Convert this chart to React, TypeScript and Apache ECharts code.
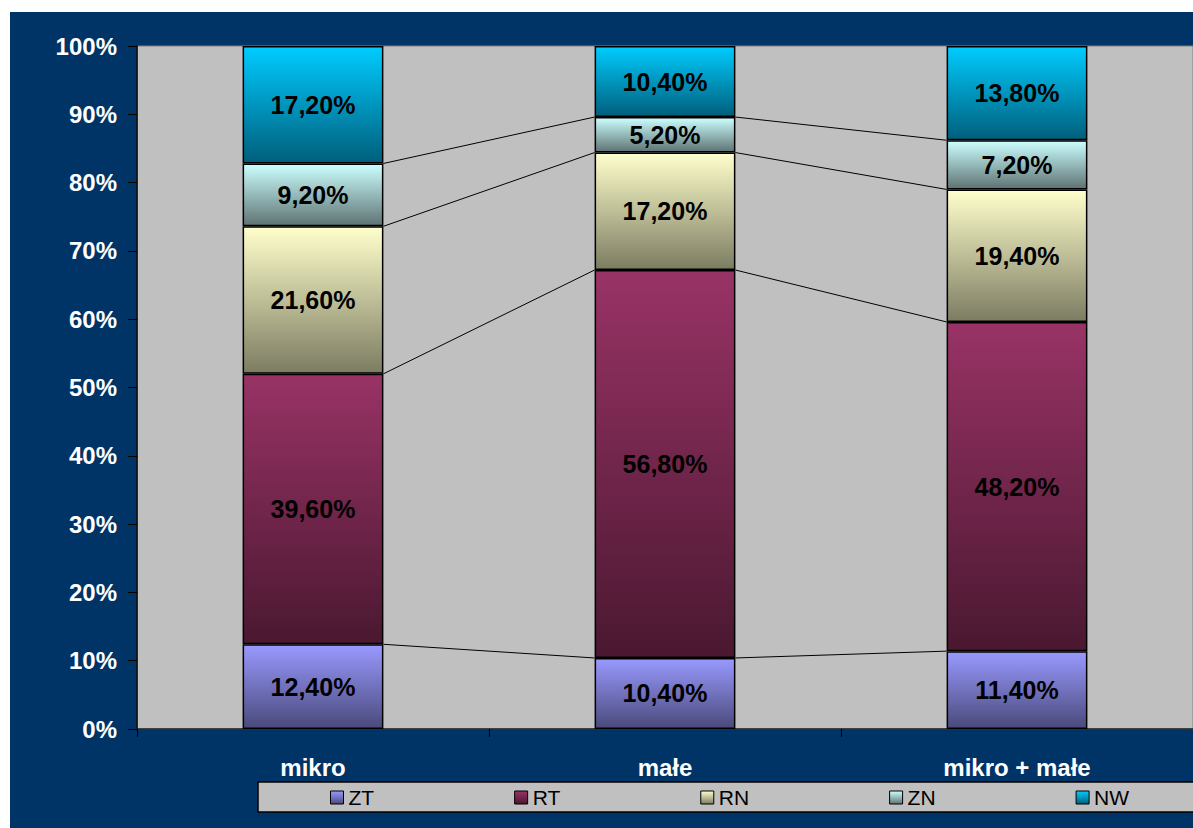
import React, { useEffect, useRef } from "react";
import * as echarts from "echarts";

const categories = ["mikro", "małe", "mikro + małe"];
const seriesNames = ["ZT", "RT", "RN", "ZN", "NW"];
const ztValues = [12.4, 10.4, 11.4];
const rtValues = [39.6, 56.8, 48.2];
const rnValues = [21.6, 17.2, 19.4];
const znValues = [9.2, 5.2, 7.2];
const nwValues = [17.2, 10.4, 13.8];
const yTicks = [0, 10, 20, 30, 40, 50, 60, 70, 80, 90, 100];

const topColors = ["#9999ff", "#993366", "#ffffcc", "#ccffff", "#00ccff"];
const bottomColors = ["#4a4a7c", "#4a1830", "#7c7c62", "#5f7373", "#005f7c"];

const FONT = "'Liberation Sans', Arial, sans-serif";

export default function App() {
  const ref = useRef<HTMLDivElement>(null);
  useEffect(() => {
    if (!ref.current) return;
    const chart = echarts.init(ref.current, undefined, { renderer: "svg" });
    const all = [ztValues, rtValues, rnValues, znValues, nwValues];
    const barSeries = all.map((vals, k) => ({
      name: seriesNames[k],
      type: "bar",
      stack: "total",
      barWidth: "40%",
      data: vals,
      z: 3,
      itemStyle: {
        color: new echarts.graphic.LinearGradient(0, 0, 0, 1, [
          { offset: 0, color: topColors[k] },
          { offset: 1, color: bottomColors[k] },
        ]),
        borderColor: "#000",
        borderWidth: 1.5,
      },
      label: {
        show: true,
        position: "inside",
        color: "#000",
        fontFamily: FONT,
        fontWeight: "bold",
        fontSize: 25,
        formatter: (p: any) => p.value.toFixed(2).replace(".", ",") + "%",
      },
    }));
    // connector lines between cumulative boundaries
    const lineData: number[][] = [];
    for (let i = 0; i < categories.length - 1; i++) {
      for (let k = 0; k < 4; k++) {
        let c1 = 0;
        let c2 = 0;
        for (let j = 0; j <= k; j++) {
          c1 += all[j][i];
          c2 += all[j][i + 1];
        }
        lineData.push([i, c1, c2]);
      }
    }
    const connector = {
      type: "custom",
      name: "connectors",
      z: 2,
      silent: true,
      encode: { x: 0, y: 1 },
      data: lineData,
      renderItem: (params: any, api: any) => {
        const i = api.value(0);
        const p1 = api.coord([i, api.value(1)]);
        const p2 = api.coord([i + 1, api.value(2)]);
        const bw = api.size([1, 0])[0] * 0.4;
        return {
          type: "line",
          shape: { x1: p1[0] + bw / 2, y1: p1[1], x2: p2[0] - bw / 2, y2: p2[1] },
          style: { stroke: "#000", lineWidth: 1 },
        };
      },
    };
    chart.setOption({
      animation: false,
      backgroundColor: "#003366",
      textStyle: { fontFamily: FONT },
      grid: {
        left: 127,
        top: 34,
        width: 1059,
        height: 683,
        show: true,
        backgroundColor: "#c0c0c0",
        borderColor: "#808080",
        borderWidth: 1,
      },
      legend: {
        data: seriesNames,
        left: 320,
        top: 775,
        padding: 0,
        icon: "rect",
        itemWidth: 13,
        itemHeight: 13,
        itemGap: 140,
        textStyle: { color: "#000", fontSize: 21, fontFamily: FONT },
        itemStyle: { borderColor: "#000", borderWidth: 1 },
      },
      graphic: [
        {
          type: "rect",
          z: 0,
          shape: { x: 248, y: 770, width: 940, height: 30 },
          style: { fill: "#c0c0c0", stroke: "#000", lineWidth: 1.5 },
        },
      ],
      xAxis: {
        type: "category",
        data: categories,
        axisLine: { show: true, lineStyle: { color: "#222", width: 1.5 } },
        axisTick: { show: true, length: 8, lineStyle: { color: "#000" } },
        axisLabel: {
          color: "#fff",
          fontWeight: "bold",
          fontSize: 24,
          fontFamily: FONT,
          margin: 26,
        },
      },
      yAxis: {
        type: "value",
        min: yTicks[0],
        max: yTicks[yTicks.length - 1],
        interval: 10,
        splitLine: { show: false },
        axisLine: { show: true, lineStyle: { color: "#000", width: 1.5 } },
        axisTick: { show: true, length: 9, lineStyle: { color: "#000" } },
        axisLabel: {
          color: "#fff",
          fontWeight: "bold",
          fontSize: 24,
          fontFamily: FONT,
          margin: 20,
          formatter: "{value}%",
        },
      },
      series: [connector, ...barSeries],
    });
    return () => chart.dispose();
  }, []);
  return (
    <div
      ref={ref}
      style={{ position: "absolute", left: 10, top: 12, width: 1183, height: 816 }}
    />
  );
}
